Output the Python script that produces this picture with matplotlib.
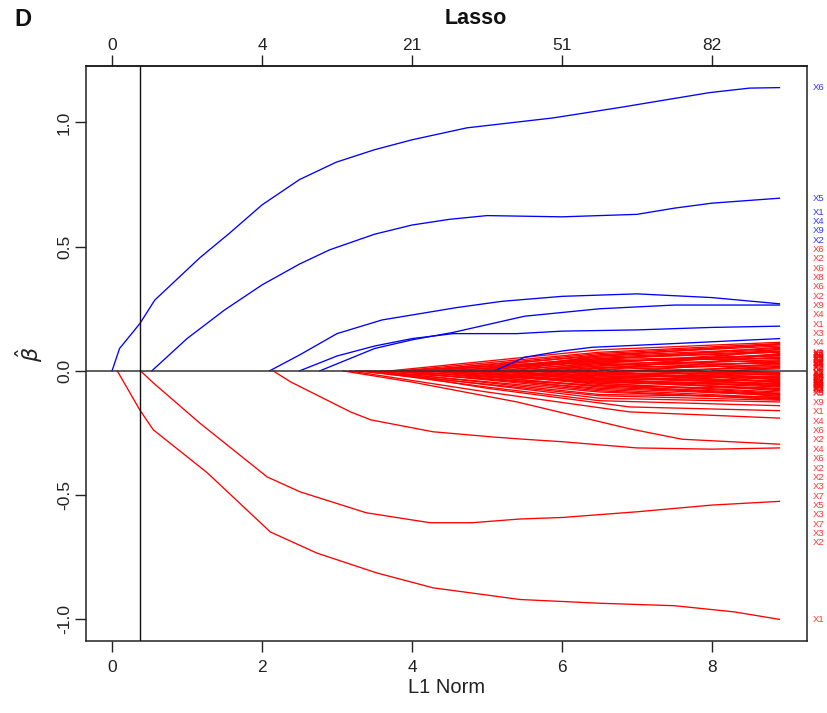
import matplotlib
matplotlib.use("Agg")
import matplotlib.pyplot as plt
import matplotlib.transforms as mtransforms

plt.rcParams['font.family'] = ['Liberation Sans', 'DejaVu Sans']
plt.rcParams['mathtext.fontset'] = 'dejavusans'

# ---------------- data ----------------
# main (distinct) coefficient paths: L1 norm knots and coefficient values
x6_l1 = [0, 0.1, 0.37, 0.57, 1.17, 1.57, 2.0, 2.5, 2.99, 3.5, 4.0, 4.73, 5.88, 6.77, 7.97, 8.5, 8.9]
x6_beta = [0, 0.09, 0.19, 0.285, 0.455, 0.555, 0.668, 0.77, 0.84, 0.89, 0.93, 0.978, 1.018, 1.06, 1.12, 1.138, 1.14]

x5_l1 = [0.53, 1.0, 1.5, 2.0, 2.5, 2.9, 3.5, 4.0, 4.5, 5.0, 6.0, 7.0, 7.5, 8.0, 8.9]
x5_beta = [0, 0.13, 0.245, 0.346, 0.43, 0.487, 0.55, 0.587, 0.61, 0.625, 0.62, 0.63, 0.655, 0.675, 0.695]

x1b_l1 = [2.1, 2.5, 3.0, 3.6, 4.0, 4.6, 5.2, 6.0, 7.0, 8.0, 8.9]
x1b_beta = [0, 0.064, 0.15, 0.205, 0.225, 0.255, 0.28, 0.3, 0.31, 0.295, 0.27]

x9b_l1 = [2.5, 3.0, 3.5, 4.0, 4.55, 5.4, 6.0, 7.0, 8.0, 8.9]
x9b_beta = [0, 0.06, 0.10, 0.13, 0.15, 0.15, 0.16, 0.165, 0.175, 0.18]

x4b_l1 = [2.77, 3.5, 4.0, 4.55, 5.5, 6.5, 7.5, 8.9]
x4b_beta = [0, 0.09, 0.125, 0.155, 0.22, 0.25, 0.265, 0.265]

x2b_l1 = [5.1, 5.5, 6.0, 6.4, 7.5, 8.9]
x2b_beta = [0, 0.055, 0.08, 0.095, 0.11, 0.13]

x1r_l1 = [0.07, 0.37, 0.55, 1.27, 2.11, 2.73, 3.53, 4.28, 5.44, 6.5, 7.5, 8.3, 8.9]
x1r_beta = [0, -0.157, -0.237, -0.41, -0.648, -0.733, -0.813, -0.873, -0.92, -0.935, -0.945, -0.97, -1.0]

x2r_l1 = [0.38, 0.55, 1.17, 2.07, 2.51, 3.39, 4.24, 4.8, 5.44, 6.0, 7.0, 8.0, 8.9]
x2r_beta = [0, -0.048, -0.21, -0.427, -0.487, -0.571, -0.611, -0.611, -0.596, -0.59, -0.567, -0.54, -0.525]

x3r_l1 = [2.15, 2.38, 3.18, 3.45, 4.28, 5.08, 5.44, 6.0, 7.0, 8.0, 8.9]
x3r_beta = [0, -0.044, -0.165, -0.197, -0.245, -0.266, -0.274, -0.285, -0.31, -0.315, -0.31]

x7r_l1 = [3.08, 4.0, 5.4, 6.9, 7.6, 8.9]
x7r_beta = [0, -0.045, -0.125, -0.233, -0.275, -0.295]

x3s_l1 = [3.17, 5.0, 6.9, 8.9]
x3s_beta = [0, -0.085, -0.165, -0.19]

x5s_l1 = [3.57, 5.0, 6.9, 8.9]
x5s_beta = [0, -0.07, -0.145, -0.16]

x7s_l1 = [3.35, 5.0, 6.5, 8.9]
x7s_beta = [0, -0.065, -0.12, -0.14]

# dense bundle of small coefficients: entry L1 norm, value at L1 = 6.5, final value
mass_enter = [3.70, 3.85, 3.95, 4.10, 4.20, 4.35, 4.50, 4.60, 4.75, 4.90, 5.05, 5.15,
              5.30, 5.45, 5.60, 5.70, 5.85, 6.00, 6.15, 6.30, 6.50, 6.70, 6.90, 7.10,
              7.40, 7.70, 8.00, 8.30, 3.80, 4.40, 5.00, 5.50,
              3.25, 3.40, 3.50, 3.65, 3.75, 3.90, 4.00, 4.15, 4.25, 4.40, 4.55, 4.65,
              4.80, 4.95, 5.10, 5.20, 5.35, 5.50, 5.65, 5.80, 5.95, 6.10, 6.25, 6.40,
              6.60, 6.80, 7.00, 7.20, 7.50, 7.80, 8.10, 8.40, 3.30, 3.60, 4.10, 4.70,
              5.40, 3.45, 4.30]
mass_mid = [0.085, 0.075, 0.060, 0.070, 0.050, 0.065, 0.045, 0.055, 0.040, 0.050, 0.030, 0.045,
            0.035, 0.025, 0.030, 0.020, 0.015, 0.012, 0.010, 0.005, 0.0, 0.0, 0.0, 0.0,
            0.0, 0.0, 0.0, 0.0, 0.040, 0.035, 0.060, 0.020,
            -0.100, -0.085, -0.095, -0.070, -0.080, -0.060, -0.075, -0.050, -0.065, -0.045, -0.055, -0.035,
            -0.050, -0.030, -0.040, -0.025, -0.035, -0.020, -0.030, -0.015, -0.020, -0.010, -0.008, -0.005,
            0.0, 0.0, 0.0, 0.0, 0.0, 0.0, 0.0, 0.0, -0.060, -0.045, -0.030, -0.020,
            -0.010, -0.110, -0.040]
mass_end = [0.115, 0.110, 0.090, 0.105, 0.075, 0.100, 0.060, 0.085, 0.050, 0.080, 0.040, 0.095,
            0.065, 0.030, 0.078, 0.045, 0.020, 0.055, 0.035, 0.025, 0.088, 0.012, 0.040, 0.070,
            0.018, 0.030, 0.008, 0.015, 0.052, 0.062, 0.108, 0.068,
            -0.118, -0.112, -0.105, -0.098, -0.115, -0.092, -0.108, -0.085, -0.095, -0.070, -0.102, -0.060,
            -0.090, -0.050, -0.075, -0.040, -0.065, -0.030, -0.080, -0.022, -0.055, -0.045, -0.015, -0.035,
            -0.062, -0.010, -0.028, -0.048, -0.018, -0.038, -0.006, -0.012, -0.072, -0.058, -0.042, -0.025,
            -0.008, -0.125, -0.052]
mass_names = ['X6', 'X2', 'X9', 'X8', 'X1', 'X6', 'X3', 'X1', 'X5', 'X3', 'X4', 'X2',
              'X1', 'X7', 'X4', 'X3', 'X5', 'X8', 'X4', 'X5', 'X4', 'X2', 'X7', 'X7',
              'X5', 'X8', 'X4', 'X3', 'X2', 'X5', 'X6', 'X8',
              'X2', 'X6', 'X2', 'X4', 'X2', 'X9', 'X4', 'X5', 'X1', 'X7', 'X6', 'X8',
              'X5', 'X3', 'X3', 'X7', 'X4', 'X8', 'X3', 'X6', 'X8', 'X1', 'X5', 'X7',
              'X4', 'X3', 'X6', 'X8', 'X1', 'X7', 'X5', 'X7', 'X1', 'X8', 'X4', 'X6',
              'X1', 'X3', 'X9']

top_ticks = [0, 2, 4, 6, 8]
top_labels = ['0', '4', '21', '51', '82']
chosen_l1 = 0.373

# ---------------- figure ----------------
W, H = 827, 713
fig = plt.figure(figsize=(W / 100, H / 100), dpi=100)
ax = fig.add_axes([86 / W, 1 - 641 / H, (807 - 86) / W, (641 - 66) / H])
ax.set_xlim(-0.347, 9.267)
ax.set_ylim(-1.087, 1.227)

RED = '#ff0000'
BLUE = '#0000ff'
LW = 0.95

labels = []  # (final value, name, colour)

# dense bundle
for e, m, f, n in zip(mass_enter, mass_mid, mass_end, mass_names):
    if e < 6.5:
        xs, ys = [e, 6.5, 8.9], [0.0, m, f]
    else:
        xs, ys = [e, 8.9], [0.0, f]
    ax.plot(xs, ys, color=RED, lw=LW, zorder=2)
    labels.append((f, n, RED))

reds = [(x1r_l1, x1r_beta, 'X1'), (x2r_l1, x2r_beta, 'X2'), (x3r_l1, x3r_beta, 'X3'),
        (x7r_l1, x7r_beta, 'X7'), (x3s_l1, x3s_beta, 'X3'), (x5s_l1, x5s_beta, 'X5'),
        (x7s_l1, x7s_beta, 'X7')]
for xs, ys, n in reds:
    ax.plot(xs, ys, color=RED, lw=LW, zorder=2)
    labels.append((ys[-1], n, RED))

blues = [(x6_l1, x6_beta, 'X6'), (x5_l1, x5_beta, 'X5'), (x1b_l1, x1b_beta, 'X1'),
         (x4b_l1, x4b_beta, 'X4'), (x9b_l1, x9b_beta, 'X9'), (x2b_l1, x2b_beta, 'X2')]
for xs, ys, n in blues:
    ax.plot(xs, ys, color=BLUE, lw=LW, zorder=3)
    labels.append((ys[-1], n, BLUE))

ax.axhline(0, color='#333333', lw=1.1, zorder=5)
ax.axvline(chosen_l1, color='#111111', lw=1.0, zorder=5)

# right-hand labels, spread apart above and below the dense centre
d = 0.0376
hi, lo = 0.072, -0.089
trans = mtransforms.blended_transform_factory(ax.transAxes, ax.transData)
up = sorted([l for l in labels if l[0] > hi], key=lambda t: t[0])
dn = sorted([l for l in labels if l[0] < lo], key=lambda t: -t[0])
mid = [l for l in labels if lo <= l[0] <= hi]
placed = []
prev = hi - d
for v, n, c in up:
    p = max(v, prev + d)
    placed.append((p, n, c))
    prev = p
prev = lo + d
for v, n, c in dn:
    p = min(v, prev - d)
    placed.append((p, n, c))
    prev = p
for v, n, c in mid:
    placed.append((v, n, c))
for p, n, c in placed:
    ax.text(1.0085, p, n, transform=trans, color=c, fontsize=6.8, va='center',
            ha='left', clip_on=False, alpha=0.8)

# axes styling (R-like)
for s in ax.spines.values():
    s.set_linewidth(1.1)
    s.set_color('#222222')
ax.set_xticks([0, 2, 4, 6, 8])
ax.set_xticklabels(['0', '2', '4', '6', '8'])
ax.set_yticks([-1.0, -0.5, 0.0, 0.5, 1.0])
ax.set_yticklabels(['-1.0', '-0.5', '0.0', '0.5', '1.0'], rotation=90, va='center')
ax.tick_params(axis='x', direction='out', length=8, width=1.0, labelsize=12.5, pad=6,
               color='#222222', labelcolor='#222222')
ax.tick_params(axis='y', direction='out', length=8, width=1.0, labelsize=12.5, pad=2,
               color='#222222', labelcolor='#222222')
ax.set_xlabel('L1 Norm', fontsize=14.5, color='#222222', labelpad=2)

sec = ax.secondary_xaxis('top')
sec.set_xticks(top_ticks)
sec.set_xticklabels(top_labels)
sec.tick_params(direction='out', length=8, width=1.0, labelsize=12.5, pad=1,
                color='#222222', labelcolor='#222222')
sec.spines['top'].set_linewidth(1.1)

fig.text(29 / W, 1 - 354 / H, r'$\hat{\beta}$', rotation=90, fontsize=16,
         ha='center', va='center', color='#222222')
fig.text(476 / W, 1 - 19 / H, 'Lasso', fontsize=15.5, fontweight='bold',
         ha='center', va='center', color='#111111')
fig.text(23 / W, 1 - 20 / H, 'D', fontsize=17, fontweight='bold',
         ha='center', va='center', color='#111111')

fig.savefig('out.png', dpi=100)
